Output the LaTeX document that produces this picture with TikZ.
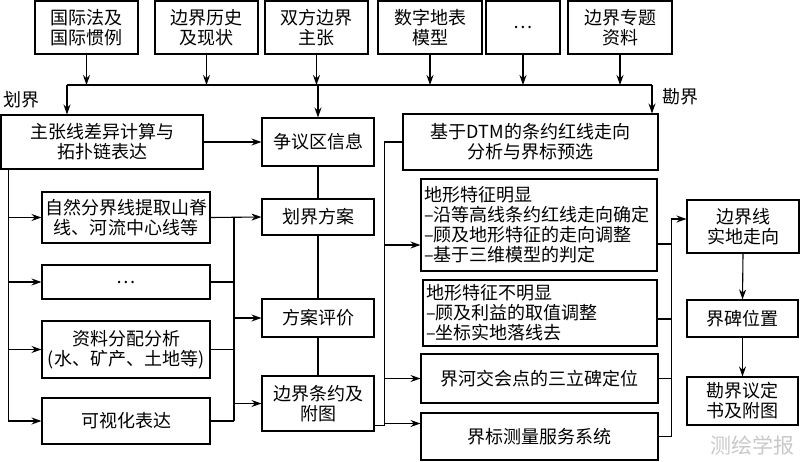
\documentclass[tikz,border=0pt]{standalone}
\usepackage{fontspec}
\setmainfont{Noto Sans CJK SC}
\usepackage{xcolor}
\usepackage{tikz}
\usetikzlibrary{arrows.meta,calc}
\definecolor{wmgray}{HTML}{C8C8C8}
\tikzset{
  box/.style={draw=black,line width=1.1pt,inner sep=0pt,align=center,font=\fontsize{18}{20}\selectfont},
  lbox/.style={box,align=left,inner xsep=3pt},
  ar/.style={-{Stealth[length=10pt,width=7pt]},draw=black,line width=1.1pt},
  ln/.style={draw=black,line width=1.1pt},
  sidelbl/.style={font=\fontsize{18}{20}\selectfont,inner sep=0pt},
}

\begin{document}
\begin{tikzpicture}[x=1pt,y=-1pt]
  \useasboundingbox (0,0) rectangle (800,461);
  % sources
  \node[box,minimum width=103pt,minimum height=53pt] (intl) at (86.5,27.5) {国际法及\\国际惯例};
  \node[box,minimum width=103pt,minimum height=53pt] (hist) at (206.5,27.5) {边界历史\\及现状};
  \node[box,minimum width=103pt,minimum height=53pt] (claim) at (316.5,27.5) {双方边界\\主张};
  \node[box,minimum width=104pt,minimum height=53pt] (dem) at (430,27.5) {数字地表\\模型};
  \node[box,minimum width=74pt,minimum height=53pt] (dots1) at (523,27.5) {…};
  \node[box,minimum width=104pt,minimum height=53pt] (topic) at (620,27.5) {边界专题\\资料};
  \coordinate (busl) at (67,85);
  \coordinate (busr) at (652,85);
  \draw[ln] (busl) -- (busr);
  \foreach \n in {intl,hist,claim,dem,dots1,topic}
    \draw[ar] (\n.south) -- (\n.south |- busl);
  \node[sidelbl,anchor=west] (dj) at (3,100) {划界};
  \node[sidelbl,anchor=west] (kj) at (662,97) {勘界};

  % delimitation
  \node[box,minimum width=202pt,minimum height=54pt] (diff) at (102,142) {主张线差异计算与\\拓扑链表达};
  \node[box,minimum width=168pt,minimum height=51pt] (nat) at (126,217.5) {自然分界线提取山脊\\线、河流中心线等};
  \node[box,minimum width=168pt,minimum height=34pt] (dots2) at (126,282) {…};
  \node[box,minimum width=168pt,minimum height=57pt] (alloc) at (126,349.5) {资料分配分析\\(水、矿产、土地等)};
  \node[box,minimum width=168pt,minimum height=46pt] (vis) at (126,421) {可视化表达};
  \node[box,minimum width=112pt,minimum height=48pt] (dispute) at (318,142) {争议区信息};
  \node[box,minimum width=112pt,minimum height=36pt] (plan) at (318,217) {划界方案};
  \node[box,minimum width=112pt,minimum height=38pt] (eval) at (318,318) {方案评价};
  \node[box,minimum width=112pt,minimum height=55pt] (treaty) at (318,403.5) {边界条约及\\附图};
  \draw[ar] (busl) -- (busl |- diff.north);
  \draw[ar] (dispute.north |- busl) -- (dispute.north);
  \draw[ar] (diff.east) -- (dispute.west);
  \coordinate (lvt) at ([xshift=8pt]diff.south west);
  \draw[ln] (lvt) -- (lvt |- vis.west);
  \foreach \n in {nat,dots2,alloc,vis}
    \draw[ar] (lvt |- \n.west) -- (\n.west);
  \coordinate (lbt) at ($(nat.east)!0.46!(plan.west)$);
  \draw[ar] (nat.east) -- (plan.west);
  \draw[ln] (lbt) -- (lbt |- vis.east);
  \foreach \n in {dots2,alloc,vis}
    \draw[ln] (\n.east) -- (lbt |- \n.east);
  \draw[ar] (lbt |- eval.west) -- (eval.west);
  \draw[ar] (lbt |- treaty.west) -- (treaty.west);
  \draw[ln] (dispute.south) -- (plan.north);
  \draw[ln] (plan.south) -- (eval.north);
  \draw[ln] (eval.south) -- (treaty.north);

  % demarcation
  \node[box,minimum width=255pt,minimum height=56pt] (dtmsel) at (530.5,142) {基于DTM的条约红线走向\\分析与界标预选};
  \node[lbox,text width=230pt,minimum height=92pt] (clear) at (539,225) {地形特征明显\\–沿等高线条约红线走向确定\\–顾及地形特征的走向调整\\–基于三维模型的判定};
  \node[lbox,text width=228pt,minimum height=66pt] (unclear) at (540,313) {地形特征不明显\\–顾及利益的取值调整\\–坐标实地落线去};
  \node[box,minimum width=237pt,minimum height=49pt] (river) at (539.5,378.5) {界河交会点的三立碑定位};
  \node[box,minimum width=237pt,minimum height=47pt] (survey) at (539.5,436.5) {界标测量服务系统};
  \draw[ar] (busr) -- (busr |- dtmsel.north);
  \coordinate (mvt) at ([xshift=-18pt]dtmsel.west);
  \coordinate (trout) at ([yshift=6pt]treaty.south east);
  \draw[ln] (trout) -- (mvt |- trout) -- (mvt) -- (dtmsel.west);
  \coordinate (clearin) at ([yshift=-20pt]clear.west);
  \coordinate (surveyin) at ([yshift=13pt]survey.west);
  \draw[ar] (mvt |- clearin) -- (clearin);
  \draw[ar] (mvt |- river.west) -- (river.west);
  \draw[ar] (mvt |- surveyin) -- (surveyin);

  % field results
  \node[box,minimum width=112pt,minimum height=53pt] (route) at (743,226.5) {边界线\\实地走向};
  \node[box,minimum width=111pt,minimum height=37pt] (stone) at (742.5,318.5) {界碑位置};
  \node[box,minimum width=111pt,minimum height=48pt] (proto) at (742.5,401) {勘界议定\\书及附图};
  \coordinate (routein) at ([yshift=7.5pt]route.west);
  \coordinate (rvt) at ([xshift=-15pt]routein);
  \draw[ar] (rvt) -- (routein);
  \draw[ln] (rvt) -- (rvt |- survey.east);
  \coordinate (clearout) at ([yshift=-19pt]clear.east);
  \coordinate (unclearout) at ([yshift=-6pt]unclear.east);
  \foreach \n in {clearout,unclearout,river.east,survey.east}
    \draw[ln] (\n) -- (rvt |- \n);
  \draw[ar] (route.south) -- (stone.north);
  \draw[ar] (stone.south) -- (proto.north);

  \node[font=\fontsize{21}{21}\selectfont,text=wmgray,inner sep=0pt] (wm) at (752,445) {测绘学报};
\end{tikzpicture}
\end{document}
